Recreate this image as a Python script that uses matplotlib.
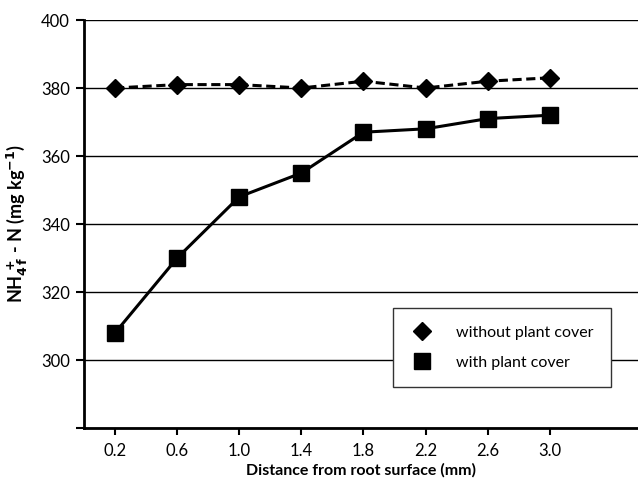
import matplotlib
matplotlib.use('Agg')
import matplotlib.pyplot as plt
import numpy as np

plt.rcParams['font.family'] = ['Lato', 'DejaVu Sans']
plt.rcParams['mathtext.default'] = 'bf'

# data
distance = ['0.2', '0.6', '1.0', '1.4', '1.8', '2.2', '2.6', '3.0']
without_cover = [380, 381, 381, 380, 382, 380, 382, 383]
with_cover = [308, 330, 348, 355, 367, 368, 371, 372]

fig = plt.figure(figsize=(6.38, 4.82), dpi=100)
ax = fig.add_axes([0.1317, 0.112, 0.8683, 0.8465])

x = np.arange(len(distance))
ax.plot(x, without_cover, color='black', linestyle=(0, (3, 1.5)), linewidth=2.2,
        marker='D', markersize=9, label='without plant cover', zorder=3)
ax.plot(x, with_cover, color='black', linestyle='-', linewidth=2.2,
        marker='s', markersize=11, label='with plant cover', zorder=3)

ax.set_xlim(-0.5, 8.42)
ax.set_ylim(280, 400)
ax.set_yticks([280, 300, 320, 340, 360, 380, 400])
ax.set_yticklabels(['', '300', '320', '340', '360', '380', '400'])
ax.set_xticks(x)
ax.set_xticklabels(distance)
ax.grid(axis='y', color='black', linewidth=1.0)
ax.set_axisbelow(True)

for side in ['top', 'right']:
    ax.spines[side].set_visible(False)
ax.spines['left'].set_linewidth(2.0)
ax.spines['bottom'].set_linewidth(2.0)
ax.tick_params(axis='y', direction='out', length=6, width=1.5, labelsize=12, pad=4)
ax.tick_params(axis='x', direction='out', length=5, width=1.5, labelsize=12, pad=6)

ax.set_xlabel('Distance from root surface (mm)', fontsize=11.5, fontweight='bold', labelpad=3)
ax.set_ylabel(r'NH$_{4\,f}^{\,+}$ - N (mg kg$^{-1}$)', fontsize=13, fontweight='bold', labelpad=8)

leg = ax.legend(loc='lower right', bbox_to_anchor=(0.965, 0.08), fontsize=11.5,
                frameon=True, fancybox=False, edgecolor='#333333', framealpha=1,
                borderpad=1.1, labelspacing=1.0, handlelength=1.4, handletextpad=1.4)
leg.get_frame().set_linewidth(1.0)
for h in leg.legend_handles:
    h.set_linestyle('None')

fig.savefig('out.png', dpi=100)
